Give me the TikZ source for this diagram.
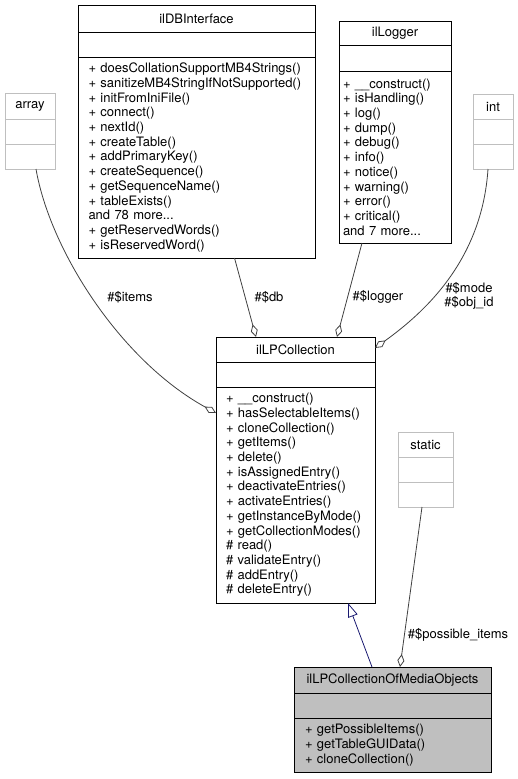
\documentclass[tikz,border=0pt]{standalone}
\usepackage{fontspec}
\setmainfont{TeX Gyre Heros}
\usetikzlibrary{arrows.meta, positioning}
\definecolor{edgegray}{HTML}{404040}
\definecolor{boxgray}{HTML}{BFBFBF}
\definecolor{navyline}{HTML}{191970}
\tikzstyle{classbox} = [rectangle, draw=black, line width=1pt, fill=white, inner sep=0pt, outer sep=0pt, font={\fontsize{13pt}{14.7pt}\selectfont}]
\tikzstyle{extbox} = [classbox, draw=boxgray]
\tikzstyle{opsbox} = [classbox, align=left]
\tikzstyle{edgelabel} = [inner sep=0pt, align=center, font={\fontsize{13pt}{14.7pt}\selectfont}]
\tikzstyle{aggregation} = [draw=edgegray, line width=0.8pt, -{Diamond[open, length=13pt, width=7pt]}]
\tikzstyle{generalization} = [draw=navyline, line width=0.8pt, -{Triangle[open, length=14pt, width=10pt]}]

\begin{document}
\begin{tikzpicture}[x=1pt, y=-1pt]
    \useasboundingbox (0,0) rectangle (518,779);

    \node (dbHead) [classbox, minimum width=237pt, minimum height=27pt, anchor=north] at (196.5,5) {ilDBInterface};
    \node (dbAttr) [classbox, minimum width=237pt, minimum height=25pt, below=0pt of dbHead] {};
    \node (dbOps) [opsbox, text width=216pt, inner xsep=10.5pt, minimum height=201pt, below=0pt of dbAttr] {+ doesCollationSupportMB4Strings()\\+ sanitizeMB4StringIfNotSupported()\\+ initFromIniFile()\\+ connect()\\+ nextId()\\+ createTable()\\+ addPrimaryKey()\\+ createSequence()\\+ getSequenceName()\\+ tableExists()\\and 78 more...\\+ getReservedWords()\\+ isReservedWord()};

    \node (logHead) [classbox, minimum width=112pt, minimum height=24pt, anchor=north] at (395,21) {ilLogger};
    \node (logAttr) [classbox, minimum width=112pt, minimum height=26pt, below=0pt of logHead] {};
    \node (logOps) [opsbox, text width=104pt, inner xsep=4pt, minimum height=172pt, below=0pt of logAttr] {+ \_\_construct()\\+ isHandling()\\+ log()\\+ dump()\\+ debug()\\+ info()\\+ notice()\\+ warning()\\+ error()\\+ critical()\\and 7 more...};

    \node (arrayHead) [extbox, minimum width=50pt, minimum height=26pt, anchor=north] at (30,93) {array};
    \node (arrayAttr) [extbox, minimum width=50pt, minimum height=25pt, below=0pt of arrayHead] {};
    \node (arrayOps) [extbox, minimum width=50pt, minimum height=25pt, below=0pt of arrayAttr] {};

    \node (intHead) [extbox, minimum width=40pt, minimum height=25pt, anchor=north] at (493,94) {int};
    \node (intAttr) [extbox, minimum width=40pt, minimum height=25pt, below=0pt of intHead] {};
    \node (intOps) [extbox, minimum width=40pt, minimum height=25pt, below=0pt of intAttr] {};

    \node (lpcHead) [classbox, minimum width=159pt, minimum height=25pt, anchor=north] at (295.5,337) {ilLPCollection};
    \node (lpcAttr) [classbox, minimum width=159pt, minimum height=25pt, below=0pt of lpcHead] {};
    \node (lpcOps) [opsbox, text width=139pt, inner xsep=10pt, minimum height=216pt, below=0pt of lpcAttr] {+ \_\_construct()\\+ hasSelectableItems()\\+ cloneCollection()\\+ getItems()\\+ delete()\\+ isAssignedEntry()\\+ deactivateEntries()\\+ activateEntries()\\+ getInstanceByMode()\\+ getCollectionModes()\\\# read()\\\# validateEntry()\\\# addEntry()\\\# deleteEntry()};

    \node (staticHead) [extbox, minimum width=55pt, minimum height=25pt, anchor=north] at (425.5,432) {static};
    \node (staticAttr) [extbox, minimum width=55pt, minimum height=25pt, below=0pt of staticHead] {};
    \node (staticOps) [extbox, minimum width=55pt, minimum height=25pt, below=0pt of staticAttr] {};

    \node (mediaHead) [classbox, fill=boxgray, minimum width=197pt, minimum height=26pt, anchor=north] at (392.5,667) {ilLPCollectionOfMediaObjects};
    \node (mediaAttr) [classbox, fill=boxgray, minimum width=197pt, minimum height=25pt, below=0pt of mediaHead] {};
    \node (mediaOps) [opsbox, fill=boxgray, text width=175pt, inner xsep=11pt, minimum height=54pt, below=0pt of mediaAttr] {+ getPossibleItems()\\+ getTableGUIData()\\+ cloneCollection()};

    \coordinate (itemsStart) at ([xshift=6pt]arrayOps.south);
    \coordinate (itemsEnd) at ([yshift=-26pt]lpcOps.north west);
    \coordinate (dbStart) at ([xshift=38pt]dbOps.south);
    \coordinate (dbEnd) at ([xshift=40pt]lpcHead.north west);
    \coordinate (logStart) at ([xshift=-33pt]logOps.south);
    \coordinate (logEnd) at ([xshift=121pt]lpcHead.north west);
    \coordinate (intStart) at ([xshift=-5pt]intOps.south);
    \coordinate (intEnd) at ([yshift=-11pt]lpcHead.north east);
    \coordinate (staticStart) at ([xshift=-3.5pt]staticOps.south);
    \coordinate (staticEnd) at ([xshift=106pt]mediaHead.north west);
    \coordinate (baseStart) at ([xshift=78pt]mediaHead.north west);
    \coordinate (baseEnd) at ([xshift=132pt]lpcOps.south west);

    \draw [aggregation] (itemsStart) .. controls (50,250) and (120,360) .. (itemsEnd);
    \draw [aggregation] (dbStart) -- (dbEnd);
    \draw [aggregation] (logStart) -- (logEnd);
    \draw [aggregation] (intStart) .. controls (482,260) and (425,312) .. (intEnd);
    \draw [aggregation] (staticStart) -- (staticEnd);
    \draw [generalization] (baseStart) -- (baseEnd);

    \node (itemsLabel) [edgelabel] at (130,297) {\#\$items};
    \node (dbLabel) [edgelabel] at (269,297) {\#\$db};
    \node (logLabel) [edgelabel] at (378,297) {\#\$logger};
    \node (modeLabel) [edgelabel] at (469,296) {\#\$mode\\\#\$obj\_id};
    \node (possibleLabel) [edgelabel] at (458,635) {\#\$possible\_items};

\end{tikzpicture}
\end{document}
